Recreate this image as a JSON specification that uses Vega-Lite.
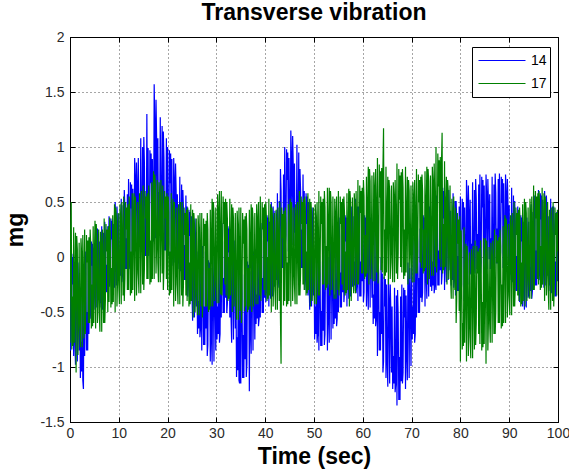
{
"$schema":"https://vega.github.io/schema/vega-lite/v6.json",
"width":488,"height":385,
"autosize":{"type":"none"},
"padding":{"left":70,"top":37,"right":11,"bottom":49},
"background":"white",
"title":{"text":"Transverse vibration","fontSize":23,"fontWeight":"bold","font":"Liberation Sans","color":"black","offset":5,"anchor":"middle"},
"config":{"view":{"stroke":"black","strokeWidth":1},"axis":{"labelFont":"Liberation Sans","titleFont":"Liberation Sans"}},
"data":{"values":[
{"t":0,"a":0.05,"b":-0.78},{"t":0.25,"a":-0.75,"b":0.5},{"t":0.5,"a":-0.25,"b":-0.36},{"t":0.75,"a":-0.9,"b":0.27},
{"t":1,"a":-0.75,"b":-0.17},{"t":1.25,"a":0.0,"b":-1.05},{"t":1.5,"a":-0.95,"b":0.07},{"t":1.75,"a":-0.3,"b":-0.59},
{"t":2,"a":-0.27,"b":-0.63},{"t":2.25,"a":-0.77,"b":0.17},{"t":2.5,"a":-0.08,"b":-0.82},{"t":2.75,"a":-1.2,"b":-0.19},
{"t":3,"a":-0.9,"b":0.25},{"t":3.25,"a":-0.15,"b":-0.5},{"t":3.5,"a":-0.5,"b":-0.05},{"t":3.75,"a":0.0,"b":-0.6},
{"t":4,"a":0.16,"b":-0.6},{"t":4.25,"a":-0.48,"b":0.1},{"t":4.5,"a":-0.08,"b":-0.25},{"t":4.75,"a":-0.6,"b":0.28},
{"t":5,"a":-0.3,"b":0.0},{"t":5.25,"a":0.3,"b":-0.65},{"t":5.5,"a":-0.46,"b":0.2},{"t":5.75,"a":0.06,"b":-0.35},
{"t":6,"a":0.14,"b":-0.5},{"t":6.25,"a":-0.22,"b":0.23},{"t":6.5,"a":0.28,"b":-0.68},{"t":6.75,"a":-0.42,"b":-0.1},
{"t":7,"a":-0.35,"b":0.35},{"t":7.25,"a":0.18,"b":-0.4},{"t":7.5,"a":-0.07,"b":0.05},{"t":7.75,"a":0.28,"b":-0.5},
{"t":8,"a":0.37,"b":-0.41},{"t":8.25,"a":-0.2,"b":0.22},{"t":8.5,"a":0.16,"b":-0.1},{"t":8.75,"a":-0.3,"b":0.38},
{"t":9,"a":-0.1,"b":0.15},{"t":9.25,"a":0.5,"b":-0.5},{"t":9.5,"a":-0.26,"b":0.35},{"t":9.75,"a":0.26,"b":-0.2},
{"t":10,"a":0.39,"b":-0.25},{"t":10.25,"a":0.03,"b":0.48},{"t":10.5,"a":0.53,"b":-0.43},{"t":10.75,"a":-0.17,"b":0.15},
{"t":11,"a":-0.15,"b":0.55},{"t":11.25,"a":0.45,"b":-0.2},{"t":11.5,"a":0.17,"b":0.25},{"t":11.75,"a":0.57,"b":-0.3},
{"t":12,"a":0.71,"b":-0.3},{"t":12.25,"a":-0.02,"b":0.4},{"t":12.5,"a":0.44,"b":0.05},{"t":12.75,"a":-0.15,"b":0.58},
{"t":13,"a":0.23,"b":0.25},{"t":13.25,"a":0.9,"b":-0.4},{"t":13.5,"a":0.05,"b":0.45},{"t":13.75,"a":0.63,"b":-0.1},
{"t":14,"a":0.9,"b":-0.15},{"t":14.25,"a":0.45,"b":0.58},{"t":14.5,"a":1.08,"b":-0.33},{"t":14.75,"a":0.2,"b":0.25},
{"t":15,"a":-0.05,"b":0.65},{"t":15.25,"a":0.85,"b":-0.1},{"t":15.5,"a":0.43,"b":0.35},{"t":15.75,"a":1.3,"b":-0.2},
{"t":16,"a":0.99,"b":-0.2},{"t":16.25,"a":0.12,"b":0.5},{"t":16.5,"a":0.67,"b":0.15},{"t":16.75,"a":-0.05,"b":0.68},
{"t":17,"a":0.45,"b":0.45},{"t":17.25,"a":1.57,"b":-0.2},{"t":17.5,"a":0.17,"b":0.65},{"t":17.75,"a":1.08,"b":0.1},
{"t":18,"a":1.08,"b":-0.05},{"t":18.25,"a":0.59,"b":0.68},{"t":18.5,"a":1.27,"b":-0.23},{"t":18.75,"a":0.31,"b":0.35},
{"t":19,"a":0.0,"b":0.65},{"t":19.25,"a":0.9,"b":-0.1},{"t":19.5,"a":0.48,"b":0.35},{"t":19.75,"a":1.08,"b":-0.2},
{"t":20,"a":1.0,"b":-0.3},{"t":20.25,"a":0.12,"b":0.4},{"t":20.5,"a":0.67,"b":0.05},{"t":20.75,"a":-0.05,"b":0.58},
{"t":21,"a":0.15,"b":0.2},{"t":21.25,"a":0.9,"b":-0.45},{"t":21.5,"a":-0.05,"b":0.4},{"t":21.75,"a":0.6,"b":-0.15},
{"t":22,"a":0.57,"b":-0.25},{"t":22.25,"a":0.17,"b":0.48},{"t":22.5,"a":0.73,"b":-0.43},{"t":22.75,"a":-0.06,"b":0.15},
{"t":23,"a":-0.25,"b":0.5},{"t":23.25,"a":0.43,"b":-0.25},{"t":23.5,"a":0.11,"b":0.2},{"t":23.75,"a":0.56,"b":-0.35},
{"t":24,"a":0.46,"b":-0.4},{"t":24.25,"a":-0.27,"b":0.3},{"t":24.5,"a":0.19,"b":-0.05},{"t":24.75,"a":-0.4,"b":0.48},
{"t":25,"a":-0.35,"b":0.1},{"t":25.25,"a":0.4,"b":-0.55},{"t":25.5,"a":-0.55,"b":0.3},{"t":25.75,"a":0.1,"b":-0.25},
{"t":26,"a":0.05,"b":-0.35},{"t":26.25,"a":-0.4,"b":0.38},{"t":26.5,"a":0.23,"b":-0.53},{"t":26.75,"a":-0.65,"b":0.05},
{"t":27,"a":-0.85,"b":0.4},{"t":27.25,"a":-0.1,"b":-0.35},{"t":27.5,"a":-0.45,"b":0.1},{"t":27.75,"a":0.05,"b":-0.45},
{"t":28,"a":0.0,"b":-0.45},{"t":28.25,"a":-0.8,"b":0.25},{"t":28.5,"a":-0.3,"b":-0.1},{"t":28.75,"a":-0.95,"b":0.43},
{"t":29,"a":-0.75,"b":0.2},{"t":29.25,"a":0.0,"b":-0.45},{"t":29.5,"a":-0.95,"b":0.4},{"t":29.75,"a":-0.3,"b":-0.15},
{"t":30,"a":0.0,"b":-0.23},{"t":30.25,"a":-0.45,"b":0.57},{"t":30.5,"a":0.18,"b":-0.42},{"t":30.75,"a":-0.7,"b":0.21},
{"t":31,"a":-0.55,"b":0.6},{"t":31.25,"a":0.13,"b":-0.15},{"t":31.5,"a":-0.19,"b":0.3},{"t":31.75,"a":0.26,"b":-0.25},
{"t":32,"a":0.31,"b":-0.35},{"t":32.25,"a":-0.42,"b":0.35},{"t":32.5,"a":0.04,"b":0.0},{"t":32.75,"a":-0.55,"b":0.53},
{"t":33,"a":-0.55,"b":0.15},{"t":33.25,"a":0.2,"b":-0.5},{"t":33.5,"a":-0.75,"b":0.35},{"t":33.75,"a":-0.1,"b":-0.2},
{"t":34,"a":-0.19,"b":-0.38},{"t":34.25,"a":-0.73,"b":0.42},{"t":34.5,"a":0.02,"b":-0.57},{"t":34.75,"a":-1.15,"b":0.06},
{"t":35,"a":-1.15,"b":0.45},{"t":35.25,"a":-0.33,"b":-0.38},{"t":35.5,"a":-0.71,"b":0.12},{"t":35.75,"a":-0.16,"b":-0.49},
{"t":36,"a":-0.01,"b":-0.45},{"t":36.25,"a":-0.97,"b":0.25},{"t":36.5,"a":-0.37,"b":-0.1},{"t":36.75,"a":-1.22,"b":0.43},
{"t":37,"a":-0.65,"b":0.15},{"t":37.25,"a":0.1,"b":-0.5},{"t":37.5,"a":-0.85,"b":0.35},{"t":37.75,"a":-0.2,"b":-0.2},
{"t":38,"a":0.07,"b":-0.25},{"t":38.25,"a":-0.34,"b":0.48},{"t":38.5,"a":0.23,"b":-0.43},{"t":38.75,"a":-0.56,"b":0.15},
{"t":39,"a":-0.55,"b":0.55},{"t":39.25,"a":0.13,"b":-0.2},{"t":39.5,"a":-0.19,"b":0.25},{"t":39.75,"a":0.26,"b":-0.3},
{"t":40,"a":0.41,"b":-0.35},{"t":40.25,"a":-0.32,"b":0.35},{"t":40.5,"a":0.14,"b":0.0},{"t":40.75,"a":-0.45,"b":0.53},
{"t":41,"a":-0.18,"b":0.15},{"t":41.25,"a":0.5,"b":-0.5},{"t":41.5,"a":-0.36,"b":0.35},{"t":41.75,"a":0.23,"b":-0.2},
{"t":42,"a":0.42,"b":-0.3},{"t":42.25,"a":0.02,"b":0.43},{"t":42.5,"a":0.58,"b":-0.48},{"t":42.75,"a":-0.21,"b":0.1},
{"t":43,"a":-0.15,"b":0.5},{"t":43.25,"a":0.6,"b":-0.97},{"t":43.5,"a":0.25,"b":0.17},{"t":43.75,"a":0.75,"b":-0.44},
{"t":44,"a":1.0,"b":-0.4},{"t":44.25,"a":0.2,"b":0.3},{"t":44.5,"a":0.7,"b":-0.05},{"t":44.75,"a":0.05,"b":0.48},
{"t":45,"a":0.33,"b":0.2},{"t":45.25,"a":1.15,"b":-0.45},{"t":45.5,"a":0.11,"b":0.4},{"t":45.75,"a":0.82,"b":-0.15},
{"t":46,"a":0.85,"b":-0.25},{"t":46.25,"a":0.4,"b":0.48},{"t":46.5,"a":1.02,"b":-0.43},{"t":46.75,"a":0.15,"b":0.15},
{"t":47,"a":-0.15,"b":0.6},{"t":47.25,"a":0.6,"b":-0.15},{"t":47.5,"a":0.25,"b":0.3},{"t":47.75,"a":0.75,"b":-0.25},
{"t":48,"a":0.6,"b":-0.3},{"t":48.25,"a":-0.2,"b":0.4},{"t":48.5,"a":0.3,"b":0.05},{"t":48.75,"a":-0.35,"b":0.58},
{"t":49,"a":-0.25,"b":0.2},{"t":49.25,"a":0.5,"b":-0.45},{"t":49.5,"a":-0.45,"b":0.4},{"t":49.75,"a":0.2,"b":-0.15},
{"t":50,"a":0.0,"b":-0.25},{"t":50.25,"a":-0.45,"b":0.48},{"t":50.5,"a":0.18,"b":-0.43},{"t":50.75,"a":-0.7,"b":0.15},
{"t":51,"a":-0.85,"b":0.6},{"t":51.25,"a":-0.18,"b":-0.15},{"t":51.5,"a":-0.49,"b":0.3},{"t":51.75,"a":-0.04,"b":-0.25},
{"t":52,"a":0.1,"b":-0.25},{"t":52.25,"a":-0.7,"b":0.45},{"t":52.5,"a":-0.2,"b":0.1},{"t":52.75,"a":-0.85,"b":0.63},
{"t":53,"a":-0.55,"b":0.3},{"t":53.25,"a":0.2,"b":-0.35},{"t":53.5,"a":-0.75,"b":0.5},{"t":53.75,"a":-0.1,"b":-0.05},
{"t":54,"a":0.07,"b":-0.2},{"t":54.25,"a":-0.34,"b":0.53},{"t":54.5,"a":0.23,"b":-0.38},{"t":54.75,"a":-0.56,"b":0.2},
{"t":55,"a":-0.5,"b":0.6},{"t":55.25,"a":0.18,"b":-0.15},{"t":55.5,"a":-0.14,"b":0.3},{"t":55.75,"a":0.31,"b":-0.25},
{"t":56,"a":0.41,"b":-0.3},{"t":56.25,"a":-0.32,"b":0.4},{"t":56.5,"a":0.14,"b":0.05},{"t":56.75,"a":-0.45,"b":0.58},
{"t":57,"a":-0.18,"b":0.27},{"t":57.25,"a":0.5,"b":-0.45},{"t":57.5,"a":-0.36,"b":0.49},{"t":57.75,"a":0.23,"b":-0.12},
{"t":58,"a":0.37,"b":-0.15},{"t":58.25,"a":-0.04,"b":0.58},{"t":58.5,"a":0.53,"b":-0.33},{"t":58.75,"a":-0.26,"b":0.25},
{"t":59,"a":-0.4,"b":0.7},{"t":59.25,"a":0.28,"b":-0.05},{"t":59.5,"a":-0.04,"b":0.4},{"t":59.75,"a":0.41,"b":-0.15},
{"t":60,"a":0.41,"b":-0.15},{"t":60.25,"a":-0.32,"b":0.55},{"t":60.5,"a":0.14,"b":0.2},{"t":60.75,"a":-0.45,"b":0.73},
{"t":61,"a":-0.28,"b":0.47},{"t":61.25,"a":0.4,"b":-0.25},{"t":61.5,"a":-0.46,"b":0.69},{"t":61.75,"a":0.13,"b":0.08},
{"t":62,"a":0.07,"b":-0.03},{"t":62.25,"a":-0.34,"b":0.77},{"t":62.5,"a":0.23,"b":-0.22},{"t":62.75,"a":-0.56,"b":0.41},
{"t":63,"a":-0.9,"b":0.9},{"t":63.25,"a":-0.15,"b":0.0},{"t":63.5,"a":-0.5,"b":0.54},{"t":63.75,"a":0.0,"b":-0.12},
{"t":64,"a":-0.15,"b":-0.14},{"t":64.25,"a":-0.95,"b":1.17},{"t":64.5,"a":-0.45,"b":0.25},{"t":64.75,"a":-1.1,"b":0.82},
{"t":65,"a":-0.95,"b":0.4},{"t":65.25,"a":-0.2,"b":-0.25},{"t":65.5,"a":-1.15,"b":0.6},{"t":65.75,"a":-0.5,"b":0.05},
{"t":66,"a":-0.45,"b":-0.05},{"t":66.25,"a":-0.9,"b":0.68},{"t":66.5,"a":-0.28,"b":-0.23},{"t":66.75,"a":-1.15,"b":0.35},
{"t":67,"a":-1.35,"b":0.85},{"t":67.25,"a":-0.53,"b":0.03},{"t":67.5,"a":-0.91,"b":0.52},{"t":67.75,"a":-0.36,"b":-0.09},
{"t":68,"a":-0.25,"b":-0.14},{"t":68.25,"a":-1.05,"b":0.63},{"t":68.5,"a":-0.55,"b":0.25},{"t":68.75,"a":-1.2,"b":0.82},
{"t":69,"a":-0.88,"b":0.4},{"t":69.25,"a":-0.05,"b":-0.25},{"t":69.5,"a":-1.1,"b":0.6},{"t":69.75,"a":-0.38,"b":0.05},
{"t":70,"a":0.0,"b":-0.05},{"t":70.25,"a":-0.45,"b":0.68},{"t":70.5,"a":0.18,"b":-0.23},{"t":70.75,"a":-0.7,"b":0.35},
{"t":71,"a":-0.55,"b":0.8},{"t":71.25,"a":0.13,"b":0.05},{"t":71.5,"a":-0.19,"b":0.5},{"t":71.75,"a":0.26,"b":-0.05},
{"t":72,"a":0.41,"b":-0.1},{"t":72.25,"a":-0.32,"b":0.6},{"t":72.5,"a":0.14,"b":0.25},{"t":72.75,"a":-0.45,"b":0.78},
{"t":73,"a":-0.18,"b":0.47},{"t":73.25,"a":0.5,"b":-0.25},{"t":73.5,"a":-0.36,"b":0.69},{"t":73.75,"a":0.23,"b":0.08},
{"t":74,"a":0.37,"b":0.02},{"t":74.25,"a":-0.04,"b":0.82},{"t":74.5,"a":0.53,"b":-0.17},{"t":74.75,"a":-0.26,"b":0.46},
{"t":75,"a":-0.3,"b":1.0},{"t":75.25,"a":0.38,"b":0.1},{"t":75.5,"a":0.06,"b":0.64},{"t":75.75,"a":0.51,"b":-0.02},
{"t":76,"a":0.65,"b":-0.09},{"t":76.25,"a":-0.15,"b":1.13},{"t":76.5,"a":0.35,"b":0.3},{"t":76.75,"a":-0.3,"b":0.87},
{"t":77,"a":-0.03,"b":0.4},{"t":77.25,"a":0.65,"b":-0.25},{"t":77.5,"a":-0.21,"b":0.6},{"t":77.75,"a":0.38,"b":0.05},
{"t":78,"a":0.42,"b":-0.2},{"t":78.25,"a":0.02,"b":0.53},{"t":78.5,"a":0.58,"b":-0.38},{"t":78.75,"a":-0.21,"b":0.2},
{"t":79,"a":-0.35,"b":0.45},{"t":79.25,"a":0.33,"b":-0.38},{"t":79.5,"a":0.01,"b":0.12},{"t":79.75,"a":0.46,"b":-0.49},
{"t":80,"a":0.55,"b":-0.95},{"t":80.25,"a":-0.25,"b":0.06},{"t":80.5,"a":0.25,"b":-0.6},{"t":80.75,"a":-0.4,"b":0.27},
{"t":81,"a":-0.05,"b":-0.24},{"t":81.25,"a":0.7,"b":-0.95},{"t":81.5,"a":-0.25,"b":-0.02},{"t":81.75,"a":0.4,"b":-0.62},
{"t":82,"a":0.52,"b":-0.73},{"t":82.25,"a":0.12,"b":0.07},{"t":82.5,"a":0.68,"b":-0.92},{"t":82.75,"a":-0.11,"b":-0.29},
{"t":83,"a":-0.15,"b":0.15},{"t":83.25,"a":0.53,"b":-0.6},{"t":83.5,"a":0.21,"b":-0.15},{"t":83.75,"a":0.66,"b":-0.7},
{"t":84,"a":0.75,"b":-0.79},{"t":84.25,"a":-0.05,"b":-0.02},{"t":84.5,"a":0.45,"b":-0.41},{"t":84.75,"a":-0.2,"b":0.17},
{"t":85,"a":0.08,"b":-0.19},{"t":85.25,"a":0.75,"b":-0.97},{"t":85.5,"a":-0.11,"b":0.04},{"t":85.75,"a":0.48,"b":-0.57},
{"t":86,"a":0.57,"b":-0.6},{"t":86.25,"a":0.17,"b":0.13},{"t":86.5,"a":0.73,"b":-0.78},{"t":86.75,"a":-0.06,"b":-0.2},
{"t":87,"a":-0.1,"b":0.25},{"t":87.25,"a":0.58,"b":-0.5},{"t":87.5,"a":0.26,"b":-0.05},{"t":87.75,"a":0.71,"b":-0.6},
{"t":88,"a":0.76,"b":-0.6},{"t":88.25,"a":0.04,"b":0.1},{"t":88.5,"a":0.49,"b":-0.25},{"t":88.75,"a":-0.1,"b":0.28},
{"t":89,"a":0.08,"b":0.05},{"t":89.25,"a":0.75,"b":-0.6},{"t":89.5,"a":-0.11,"b":0.25},{"t":89.75,"a":0.48,"b":-0.3},
{"t":90,"a":0.47,"b":-0.35},{"t":90.25,"a":0.07,"b":0.38},{"t":90.5,"a":0.63,"b":-0.53},{"t":90.75,"a":-0.16,"b":0.05},
{"t":91,"a":-0.35,"b":0.5},{"t":91.25,"a":0.33,"b":-0.25},{"t":91.5,"a":0.01,"b":0.2},{"t":91.75,"a":0.46,"b":-0.35},
{"t":92,"a":0.41,"b":-0.4},{"t":92.25,"a":-0.32,"b":0.3},{"t":92.5,"a":0.14,"b":-0.05},{"t":92.75,"a":-0.45,"b":0.48},
{"t":93,"a":-0.28,"b":0.2},{"t":93.25,"a":0.4,"b":-0.45},{"t":93.5,"a":-0.46,"b":0.4},{"t":93.75,"a":0.13,"b":-0.15},
{"t":94,"a":0.32,"b":-0.2},{"t":94.25,"a":-0.09,"b":0.53},{"t":94.5,"a":0.48,"b":-0.38},{"t":94.75,"a":-0.31,"b":0.2},
{"t":95,"a":-0.3,"b":0.65},{"t":95.25,"a":0.38,"b":-0.1},{"t":95.5,"a":0.06,"b":0.35},{"t":95.75,"a":0.51,"b":-0.2},
{"t":96,"a":0.61,"b":-0.25},{"t":96.25,"a":-0.12,"b":0.45},{"t":96.5,"a":0.34,"b":0.1},{"t":96.75,"a":-0.25,"b":0.63},
{"t":97,"a":-0.08,"b":0.25},{"t":97.25,"a":0.6,"b":-0.4},{"t":97.5,"a":-0.26,"b":0.45},{"t":97.75,"a":0.33,"b":-0.1},
{"t":98,"a":0.37,"b":-0.3},{"t":98.25,"a":-0.04,"b":0.43},{"t":98.5,"a":0.53,"b":-0.48},{"t":98.75,"a":-0.26,"b":0.1},
{"t":99,"a":-0.4,"b":0.5},{"t":99.25,"a":0.28,"b":-0.25},{"t":99.5,"a":-0.04,"b":0.2},{"t":99.75,"a":0.41,"b":-0.35},
{"t":100,"a":0.1,"b":0.05},
{"t":0.125,"a":-0.85,"b":0.24},{"t":0.375,"a":0.03,"b":-0.84},{"t":0.625,"a":0.0,"b":-0.81},{"t":0.875,"a":-0.05,"b":-0.78},
{"t":1.125,"a":-0.98,"b":0.22},{"t":1.375,"a":-0.2,"b":0.19},{"t":1.625,"a":-0.05,"b":-0.89},{"t":1.875,"a":-0.85,"b":0.13},
{"t":2.125,"a":-1.1,"b":-0.82},{"t":2.375,"a":-1.04,"b":0.03},{"t":2.625,"a":-1.12,"b":0.2},{"t":2.875,"a":-0.16,"b":-0.74},
{"t":3.125,"a":0.05,"b":-0.7},{"t":3.375,"a":-0.85,"b":0.2},{"t":3.625,"a":-0.85,"b":0.15},{"t":3.875,"a":-0.7,"b":0.18},
{"t":4.125,"a":-0.56,"b":0.25},{"t":4.375,"a":0.14,"b":-0.65},{"t":4.625,"a":0.12,"b":-0.63},{"t":4.875,"a":0.08,"b":-0.6},
{"t":5.125,"a":-0.48,"b":0.33},{"t":5.375,"a":0.14,"b":0.3},{"t":5.625,"a":0.26,"b":-0.6},{"t":5.875,"a":-0.38,"b":0.25},
{"t":6.125,"a":-0.46,"b":-0.68},{"t":6.375,"a":-0.42,"b":0.1},{"t":6.625,"a":-0.48,"b":0.25},{"t":6.875,"a":0.22,"b":-0.6},
{"t":7.125,"a":0.32,"b":-0.6},{"t":7.375,"a":-0.32,"b":0.3},{"t":7.625,"a":-0.32,"b":0.25},{"t":7.875,"a":-0.21,"b":0.28},
{"t":8.125,"a":-0.27,"b":0.36},{"t":8.375,"a":0.35,"b":-0.46},{"t":8.625,"a":0.33,"b":-0.43},{"t":8.875,"a":0.3,"b":-0.41},
{"t":9.125,"a":-0.28,"b":0.48},{"t":9.375,"a":0.34,"b":0.45},{"t":9.625,"a":0.46,"b":-0.45},{"t":9.875,"a":-0.18,"b":0.4},
{"t":10.125,"a":-0.21,"b":-0.43},{"t":10.375,"a":-0.17,"b":0.35},{"t":10.625,"a":-0.23,"b":0.5},{"t":10.875,"a":0.47,"b":-0.35},
{"t":11.125,"a":0.61,"b":-0.4},{"t":11.375,"a":-0.11,"b":0.5},{"t":11.625,"a":-0.11,"b":0.45},{"t":11.875,"a":0.01,"b":0.48},
{"t":12.125,"a":-0.11,"b":0.55},{"t":12.375,"a":0.68,"b":-0.35},{"t":12.625,"a":0.66,"b":-0.33},{"t":12.875,"a":0.62,"b":-0.3},
{"t":13.125,"a":0.02,"b":0.58},{"t":13.375,"a":0.72,"b":0.55},{"t":13.625,"a":0.86,"b":-0.35},{"t":13.875,"a":0.14,"b":0.5},
{"t":14.125,"a":0.15,"b":-0.33},{"t":14.375,"a":0.2,"b":0.45},{"t":14.625,"a":0.13,"b":0.6},{"t":14.875,"a":1.0,"b":-0.25},
{"t":15.125,"a":1.09,"b":-0.3},{"t":15.375,"a":0.01,"b":0.6},{"t":15.625,"a":0.01,"b":0.55},{"t":15.875,"a":0.19,"b":0.58},
{"t":16.125,"a":0.01,"b":0.65},{"t":16.375,"a":0.97,"b":-0.25},{"t":16.625,"a":0.94,"b":-0.23},{"t":16.875,"a":0.89,"b":-0.2},
{"t":17.125,"a":0.14,"b":0.78},{"t":17.375,"a":1.22,"b":0.75},{"t":17.625,"a":1.43,"b":-0.15},{"t":17.875,"a":0.31,"b":0.7},
{"t":18.125,"a":0.26,"b":-0.23},{"t":18.375,"a":0.31,"b":0.55},{"t":18.625,"a":0.23,"b":0.7},{"t":18.875,"a":1.19,"b":-0.15},
{"t":19.125,"a":1.14,"b":-0.3},{"t":19.375,"a":0.06,"b":0.6},{"t":19.625,"a":0.06,"b":0.55},{"t":19.875,"a":0.24,"b":0.58},
{"t":20.125,"a":0.01,"b":0.55},{"t":20.375,"a":0.97,"b":-0.35},{"t":20.625,"a":0.94,"b":-0.33},{"t":20.875,"a":0.89,"b":-0.3},
{"t":21.125,"a":-0.08,"b":0.53},{"t":21.375,"a":0.7,"b":0.5},{"t":21.625,"a":0.85,"b":-0.4},{"t":21.875,"a":0.05,"b":0.45},
{"t":22.125,"a":-0.11,"b":-0.43},{"t":22.375,"a":-0.06,"b":0.35},{"t":22.625,"a":-0.13,"b":0.5},{"t":22.875,"a":0.66,"b":-0.35},
{"t":23.125,"a":0.61,"b":-0.45},{"t":23.375,"a":-0.21,"b":0.45},{"t":23.625,"a":-0.21,"b":0.4},{"t":23.875,"a":-0.07,"b":0.43},
{"t":24.125,"a":-0.36,"b":0.45},{"t":24.375,"a":0.43,"b":-0.45},{"t":24.625,"a":0.41,"b":-0.43},{"t":24.875,"a":0.37,"b":-0.4},
{"t":25.125,"a":-0.58,"b":0.43},{"t":25.375,"a":0.2,"b":0.4},{"t":25.625,"a":0.35,"b":-0.5},{"t":25.875,"a":-0.45,"b":0.35},
{"t":26.125,"a":-0.7,"b":-0.53},{"t":26.375,"a":-0.65,"b":0.25},{"t":26.625,"a":-0.73,"b":0.4},{"t":26.875,"a":0.15,"b":-0.45},
{"t":27.125,"a":0.1,"b":-0.55},{"t":27.375,"a":-0.8,"b":0.35},{"t":27.625,"a":-0.8,"b":0.3},{"t":27.875,"a":-0.65,"b":0.33},
{"t":28.125,"a":-0.9,"b":0.4},{"t":28.375,"a":-0.03,"b":-0.5},{"t":28.625,"a":-0.05,"b":-0.48},{"t":28.875,"a":-0.1,"b":-0.45},
{"t":29.125,"a":-0.98,"b":0.53},{"t":29.375,"a":-0.2,"b":0.5},{"t":29.625,"a":-0.05,"b":-0.4},{"t":29.875,"a":-0.85,"b":0.45},
{"t":30.125,"a":-0.75,"b":-0.42},{"t":30.375,"a":-0.7,"b":0.43},{"t":30.625,"a":-0.78,"b":0.6},{"t":30.875,"a":0.1,"b":-0.34},
{"t":31.125,"a":0.31,"b":-0.35},{"t":31.375,"a":-0.51,"b":0.55},{"t":31.625,"a":-0.51,"b":0.5},{"t":31.875,"a":-0.37,"b":0.53},
{"t":32.125,"a":-0.51,"b":0.5},{"t":32.375,"a":0.28,"b":-0.4},{"t":32.625,"a":0.26,"b":-0.38},{"t":32.875,"a":0.22,"b":-0.35},
{"t":33.125,"a":-0.78,"b":0.48},{"t":33.375,"a":0.0,"b":0.45},{"t":33.625,"a":0.15,"b":-0.45},{"t":33.875,"a":-0.65,"b":0.4},
{"t":34.125,"a":-1.09,"b":-0.57},{"t":34.375,"a":-1.03,"b":0.28},{"t":34.625,"a":-1.12,"b":0.45},{"t":34.875,"a":-0.07,"b":-0.49},
{"t":35.125,"a":-0.1,"b":-0.6},{"t":35.375,"a":-1.1,"b":0.4},{"t":35.625,"a":-1.1,"b":0.34},{"t":35.875,"a":-0.93,"b":0.37},
{"t":36.125,"a":-1.09,"b":0.4},{"t":36.375,"a":-0.04,"b":-0.5},{"t":36.625,"a":-0.07,"b":-0.48},{"t":36.875,"a":-0.13,"b":-0.45},
{"t":37.125,"a":-0.88,"b":0.48},{"t":37.375,"a":-0.1,"b":0.45},{"t":37.625,"a":0.05,"b":-0.45},{"t":37.875,"a":-0.75,"b":0.4},
{"t":38.125,"a":-0.61,"b":-0.43},{"t":38.375,"a":-0.56,"b":0.35},{"t":38.625,"a":-0.63,"b":0.5},{"t":38.875,"a":0.16,"b":-0.35},
{"t":39.125,"a":0.31,"b":-0.4},{"t":39.375,"a":-0.51,"b":0.5},{"t":39.625,"a":-0.51,"b":0.45},{"t":39.875,"a":-0.37,"b":0.48},
{"t":40.125,"a":-0.41,"b":0.5},{"t":40.375,"a":0.38,"b":-0.4},{"t":40.625,"a":0.36,"b":-0.38},{"t":40.875,"a":0.32,"b":-0.35},
{"t":41.125,"a":-0.38,"b":0.48},{"t":41.375,"a":0.32,"b":0.45},{"t":41.625,"a":0.46,"b":-0.45},{"t":41.875,"a":-0.27,"b":0.4},
{"t":42.125,"a":-0.26,"b":-0.48},{"t":42.375,"a":-0.21,"b":0.3},{"t":42.625,"a":-0.28,"b":0.45},{"t":42.875,"a":0.51,"b":-0.4},
{"t":43.125,"a":0.8,"b":-0.55},{"t":43.375,"a":-0.1,"b":0.45},{"t":43.625,"a":-0.1,"b":0.39},{"t":43.875,"a":0.05,"b":0.42},
{"t":44.125,"a":0.1,"b":0.45},{"t":44.375,"a":0.98,"b":-0.45},{"t":44.625,"a":0.95,"b":-0.43},{"t":44.875,"a":0.9,"b":-0.4},
{"t":45.125,"a":0.08,"b":0.53},{"t":45.375,"a":0.93,"b":0.5},{"t":45.625,"a":1.1,"b":-0.4},{"t":45.875,"a":0.22,"b":0.45},
{"t":46.125,"a":0.1,"b":-0.43},{"t":46.375,"a":0.15,"b":0.35},{"t":46.625,"a":0.08,"b":0.5},{"t":46.875,"a":0.95,"b":-0.35},
{"t":47.125,"a":0.8,"b":-0.35},{"t":47.375,"a":-0.1,"b":0.55},{"t":47.625,"a":-0.1,"b":0.5},{"t":47.875,"a":0.05,"b":0.53},
{"t":48.125,"a":-0.3,"b":0.55},{"t":48.375,"a":0.58,"b":-0.35},{"t":48.625,"a":0.55,"b":-0.33},{"t":48.875,"a":0.5,"b":-0.3},
{"t":49.125,"a":-0.48,"b":0.53},{"t":49.375,"a":0.3,"b":0.5},{"t":49.625,"a":0.45,"b":-0.4},{"t":49.875,"a":-0.35,"b":0.45},
{"t":50.125,"a":-0.75,"b":-0.43},{"t":50.375,"a":-0.7,"b":0.35},{"t":50.625,"a":-0.78,"b":0.5},{"t":50.875,"a":0.1,"b":-0.35},
{"t":51.125,"a":0.01,"b":-0.35},{"t":51.375,"a":-0.81,"b":0.55},{"t":51.625,"a":-0.81,"b":0.5},{"t":51.875,"a":-0.67,"b":0.53},
{"t":52.125,"a":-0.8,"b":0.6},{"t":52.375,"a":0.08,"b":-0.3},{"t":52.625,"a":0.05,"b":-0.28},{"t":52.875,"a":0.0,"b":-0.25},
{"t":53.125,"a":-0.78,"b":0.63},{"t":53.375,"a":0.0,"b":0.6},{"t":53.625,"a":0.15,"b":-0.3},{"t":53.875,"a":-0.65,"b":0.55},
{"t":54.125,"a":-0.61,"b":-0.38},{"t":54.375,"a":-0.56,"b":0.4},{"t":54.625,"a":-0.63,"b":0.55},{"t":54.875,"a":0.16,"b":-0.3},
{"t":55.125,"a":0.36,"b":-0.35},{"t":55.375,"a":-0.46,"b":0.55},{"t":55.625,"a":-0.46,"b":0.5},{"t":55.875,"a":-0.32,"b":0.53},
{"t":56.125,"a":-0.41,"b":0.55},{"t":56.375,"a":0.38,"b":-0.35},{"t":56.625,"a":0.36,"b":-0.33},{"t":56.875,"a":0.32,"b":-0.3},
{"t":57.125,"a":-0.38,"b":0.62},{"t":57.375,"a":0.32,"b":0.6},{"t":57.625,"a":0.46,"b":-0.4},{"t":57.875,"a":-0.27,"b":0.54},
{"t":58.125,"a":-0.31,"b":-0.33},{"t":58.375,"a":-0.26,"b":0.45},{"t":58.625,"a":-0.33,"b":0.6},{"t":58.875,"a":0.46,"b":-0.25},
{"t":59.125,"a":0.46,"b":-0.25},{"t":59.375,"a":-0.36,"b":0.65},{"t":59.625,"a":-0.36,"b":0.6},{"t":59.875,"a":-0.22,"b":0.63},
{"t":60.125,"a":-0.41,"b":0.7},{"t":60.375,"a":0.38,"b":-0.2},{"t":60.625,"a":0.36,"b":-0.18},{"t":60.875,"a":0.32,"b":-0.15},
{"t":61.125,"a":-0.48,"b":0.82},{"t":61.375,"a":0.22,"b":0.8},{"t":61.625,"a":0.36,"b":-0.2},{"t":61.875,"a":-0.37,"b":0.74},
{"t":62.125,"a":-0.61,"b":-0.22},{"t":62.375,"a":-0.56,"b":0.63},{"t":62.625,"a":-0.63,"b":0.8},{"t":62.875,"a":0.16,"b":-0.14},
{"t":63.125,"a":0.05,"b":-0.24},{"t":63.375,"a":-0.85,"b":0.84},{"t":63.625,"a":-0.85,"b":0.78},{"t":63.875,"a":-0.7,"b":0.81},
{"t":64.125,"a":-1.05,"b":0.8},{"t":64.375,"a":-0.18,"b":-0.2},{"t":64.625,"a":-0.2,"b":-0.17},{"t":64.875,"a":-0.25,"b":-0.14},
{"t":65.125,"a":-1.18,"b":0.73},{"t":65.375,"a":-0.4,"b":0.7},{"t":65.625,"a":-0.25,"b":-0.2},{"t":65.875,"a":-1.05,"b":0.65},
{"t":66.125,"a":-1.2,"b":-0.23},{"t":66.375,"a":-1.15,"b":0.55},{"t":66.625,"a":-1.23,"b":0.7},{"t":66.875,"a":-0.35,"b":-0.15},
{"t":67.125,"a":-0.3,"b":-0.2},{"t":67.375,"a":-1.3,"b":0.8},{"t":67.625,"a":-1.3,"b":0.74},{"t":67.875,"a":-1.13,"b":0.77},
{"t":68.125,"a":-1.15,"b":0.8},{"t":68.375,"a":-0.28,"b":-0.2},{"t":68.625,"a":-0.3,"b":-0.17},{"t":68.875,"a":-0.35,"b":-0.14},
{"t":69.125,"a":-1.12,"b":0.73},{"t":69.375,"a":-0.27,"b":0.7},{"t":69.625,"a":-0.1,"b":-0.2},{"t":69.875,"a":-0.99,"b":0.65},
{"t":70.125,"a":-0.75,"b":-0.23},{"t":70.375,"a":-0.7,"b":0.55},{"t":70.625,"a":-0.78,"b":0.7},{"t":70.875,"a":0.1,"b":-0.15},
{"t":71.125,"a":0.31,"b":-0.15},{"t":71.375,"a":-0.51,"b":0.75},{"t":71.625,"a":-0.51,"b":0.7},{"t":71.875,"a":-0.37,"b":0.73},
{"t":72.125,"a":-0.41,"b":0.75},{"t":72.375,"a":0.38,"b":-0.15},{"t":72.625,"a":0.36,"b":-0.13},{"t":72.875,"a":0.32,"b":-0.1},
{"t":73.125,"a":-0.38,"b":0.82},{"t":73.375,"a":0.32,"b":0.8},{"t":73.625,"a":0.46,"b":-0.2},{"t":73.875,"a":-0.27,"b":0.74},
{"t":74.125,"a":-0.31,"b":-0.17},{"t":74.375,"a":-0.26,"b":0.68},{"t":74.625,"a":-0.33,"b":0.85},{"t":74.875,"a":0.46,"b":-0.09},
{"t":75.125,"a":0.56,"b":-0.14},{"t":75.375,"a":-0.26,"b":0.94},{"t":75.625,"a":-0.26,"b":0.88},{"t":75.875,"a":-0.12,"b":0.91},
{"t":76.125,"a":-0.25,"b":0.85},{"t":76.375,"a":0.63,"b":-0.15},{"t":76.625,"a":0.6,"b":-0.12},{"t":76.875,"a":0.55,"b":-0.09},
{"t":77.125,"a":-0.23,"b":0.73},{"t":77.375,"a":0.47,"b":0.7},{"t":77.625,"a":0.61,"b":-0.2},{"t":77.875,"a":-0.12,"b":0.65},
{"t":78.125,"a":-0.26,"b":-0.38},{"t":78.375,"a":-0.21,"b":0.4},{"t":78.625,"a":-0.28,"b":0.55},{"t":78.875,"a":0.51,"b":-0.3},
{"t":79.125,"a":0.51,"b":-0.6},{"t":79.375,"a":-0.31,"b":0.4},{"t":79.625,"a":-0.31,"b":0.34},{"t":79.875,"a":-0.17,"b":0.37},
{"t":80.125,"a":-0.35,"b":0.24},{"t":80.375,"a":0.53,"b":-0.84},{"t":80.625,"a":0.5,"b":-0.81},{"t":80.875,"a":0.45,"b":-0.78},
{"t":81.125,"a":-0.28,"b":0.12},{"t":81.375,"a":0.5,"b":0.1},{"t":81.625,"a":0.65,"b":-0.9},{"t":81.875,"a":-0.15,"b":0.04},
{"t":82.125,"a":-0.16,"b":-0.92},{"t":82.375,"a":-0.11,"b":-0.07},{"t":82.625,"a":-0.18,"b":0.1},{"t":82.875,"a":0.61,"b":-0.84},
{"t":83.125,"a":0.71,"b":-0.8},{"t":83.375,"a":-0.11,"b":0.1},{"t":83.625,"a":-0.11,"b":0.05},{"t":83.875,"a":0.03,"b":0.08},
{"t":84.125,"a":-0.15,"b":0.15},{"t":84.375,"a":0.73,"b":-0.85},{"t":84.625,"a":0.7,"b":-0.82},{"t":84.875,"a":0.65,"b":-0.79},
{"t":85.125,"a":-0.13,"b":0.17},{"t":85.375,"a":0.57,"b":0.15},{"t":85.625,"a":0.71,"b":-0.85},{"t":85.875,"a":-0.02,"b":0.09},
{"t":86.125,"a":-0.11,"b":-0.78},{"t":86.375,"a":-0.06,"b":0.0},{"t":86.625,"a":-0.13,"b":0.15},{"t":86.875,"a":0.66,"b":-0.7},
{"t":87.125,"a":0.76,"b":-0.7},{"t":87.375,"a":-0.06,"b":0.2},{"t":87.625,"a":-0.06,"b":0.15},{"t":87.875,"a":0.08,"b":0.18},
{"t":88.125,"a":-0.06,"b":0.25},{"t":88.375,"a":0.73,"b":-0.65},{"t":88.625,"a":0.71,"b":-0.63},{"t":88.875,"a":0.67,"b":-0.6},
{"t":89.125,"a":-0.13,"b":0.38},{"t":89.375,"a":0.57,"b":0.35},{"t":89.625,"a":0.71,"b":-0.55},{"t":89.875,"a":-0.02,"b":0.3},
{"t":90.125,"a":-0.21,"b":-0.53},{"t":90.375,"a":-0.16,"b":0.25},{"t":90.625,"a":-0.23,"b":0.4},{"t":90.875,"a":0.56,"b":-0.45},
{"t":91.125,"a":0.51,"b":-0.45},{"t":91.375,"a":-0.31,"b":0.45},{"t":91.625,"a":-0.31,"b":0.4},{"t":91.875,"a":-0.17,"b":0.43},
{"t":92.125,"a":-0.41,"b":0.45},{"t":92.375,"a":0.38,"b":-0.45},{"t":92.625,"a":0.36,"b":-0.43},{"t":92.875,"a":0.32,"b":-0.4},
{"t":93.125,"a":-0.48,"b":0.53},{"t":93.375,"a":0.22,"b":0.5},{"t":93.625,"a":0.36,"b":-0.4},{"t":93.875,"a":-0.37,"b":0.45},
{"t":94.125,"a":-0.36,"b":-0.38},{"t":94.375,"a":-0.31,"b":0.4},{"t":94.625,"a":-0.38,"b":0.55},{"t":94.875,"a":0.41,"b":-0.3},
{"t":95.125,"a":0.56,"b":-0.3},{"t":95.375,"a":-0.26,"b":0.6},{"t":95.625,"a":-0.26,"b":0.55},{"t":95.875,"a":-0.12,"b":0.58},
{"t":96.125,"a":-0.21,"b":0.6},{"t":96.375,"a":0.58,"b":-0.3},{"t":96.625,"a":0.56,"b":-0.28},{"t":96.875,"a":0.52,"b":-0.25},
{"t":97.125,"a":-0.28,"b":0.58},{"t":97.375,"a":0.42,"b":0.55},{"t":97.625,"a":0.56,"b":-0.35},{"t":97.875,"a":-0.17,"b":0.5},
{"t":98.125,"a":-0.31,"b":-0.48},{"t":98.375,"a":-0.26,"b":0.3},{"t":98.625,"a":-0.33,"b":0.45},{"t":98.875,"a":0.46,"b":-0.4},
{"t":99.125,"a":0.46,"b":-0.45},{"t":99.375,"a":-0.36,"b":0.45},{"t":99.625,"a":-0.36,"b":0.4},{"t":99.875,"a":-0.22,"b":0.43}
]},
"layer":[
{"mark":{"type":"line","strokeWidth":1.2,"clip":true},
 "encoding":{
  "x":{"field":"t","type":"quantitative","scale":{"domain":[0,100],"nice":false},
   "axis":{"orient":"bottom","values":[0,10,20,30,40,50,60,70,80,90,100],"labelExpr":"''+datum.value","labelFlush":false,"labelOverlap":false,
    "title":"Time (sec)","titleFontSize":23,"titleFontWeight":"bold","titleColor":"black","titlePadding":5,
    "labelFontSize":14,"labelColor":"#2a2a2a","labelPadding":9,"tickSize":-5,"tickColor":"black","domainColor":"black",
    "grid":true,"gridColor":"black","gridDash":[1,3],"gridOpacity":0.7}},
  "y":{"field":"a","type":"quantitative","scale":{"domain":[-1.5,2],"nice":false,"zero":false},
   "axis":{"orient":"left","values":[-1.5,-1,-0.5,0,0.5,1,1.5,2],"labelExpr":"''+datum.value","labelFlush":false,"labelOverlap":false,
    "title":"mg","titleFontSize":23,"titleFontWeight":"bold","titleColor":"black","titlePadding":12,
    "labelFontSize":14,"labelColor":"#2a2a2a","labelPadding":11,"tickSize":-5,"tickColor":"black","domainColor":"black",
    "grid":true,"gridColor":"black","gridDash":[1,3],"gridOpacity":0.7}},
  "color":{"datum":"14","type":"nominal","scale":{"domain":["14","17"],"range":["#0000ff","#008000"]},
   "legend":{"orient":"none","legendX":402,"legendY":10,"title":null,"symbolType":"stroke","symbolSize":2209,"symbolStrokeWidth":1,
    "clipHeight":21,"labelFont":"Liberation Sans","labelFontSize":14,"labelColor":"black","fillColor":"white","strokeColor":"black",
    "padding":3,"symbolOffset":3,"labelOffset":5}}
 }},
{"mark":{"type":"line","strokeWidth":1.2,"clip":true},
 "encoding":{
  "x":{"field":"t","type":"quantitative",
   "axis":{"orient":"top","values":[0,10,20,30,40,50,60,70,80,90,100],"labels":false,"title":null,"grid":false,"tickSize":-5,"tickColor":"black","domain":false}},
  "y":{"field":"b","type":"quantitative",
   "axis":{"orient":"right","values":[-1.5,-1,-0.5,0,0.5,1,1.5,2],"labels":false,"title":null,"grid":false,"tickSize":-5,"tickColor":"black","domain":false}},
  "color":{"datum":"17","type":"nominal"}
 }}
],
"resolve":{"axis":{"x":"independent","y":"independent"}}
}
